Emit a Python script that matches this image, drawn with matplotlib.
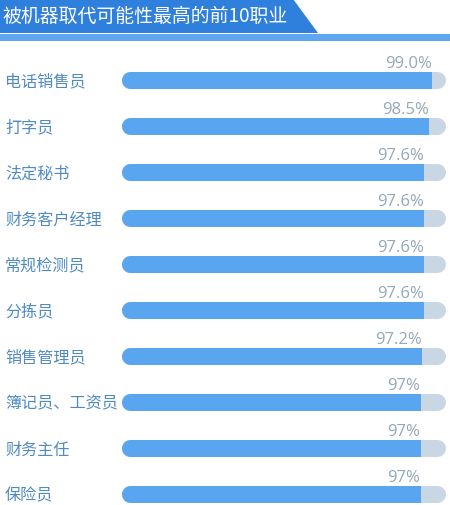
import numpy as np
import matplotlib.pyplot as plt
from matplotlib.patches import Polygon, Rectangle

plt.rcParams['font.family'] = ['Noto Sans CJK SC', 'DejaVu Sans']

# data
title = "被机器取代可能性最高的前10职业"
jobs = ["电话销售员", "打字员", "法定秘书", "财务客户经理", "常规检测员",
        "分拣员", "销售管理员", "簿记员、工资员", "财务主任", "保险员"]
values = [99.0, 98.5, 97.6, 97.6, 97.6, 97.6, 97.2, 97.0, 97.0, 97.0]
value_labels = ["99.0%", "98.5%", "97.6%", "97.6%", "97.6%",
                "97.6%", "97.2%", "97%", "97%", "97%"]

W, H = 450, 506
fig = plt.figure(figsize=(W / 100, H / 100), dpi=100)
fig.patch.set_facecolor('white')

# title banner
banner = Polygon([(0, 1), (293 / W, 1), (318 / W, 1 - 34 / H), (0, 1 - 34 / H)],
                 closed=True, transform=fig.transFigure, facecolor='#2f80dc',
                 edgecolor='none')
fig.patches.append(banner)
strip = Rectangle((0, 1 - 42 / H), 1, 7 / H, transform=fig.transFigure,
                  facecolor='#5ea6f0', edgecolor='none')
fig.patches.append(strip)
fig.text(2 / W, 1 - 16 / H, title, color='white', fontsize=13.6,
         ha='left', va='center')

# bars
ax = fig.add_axes([0, 0, 1, 1])
ax.set_axis_off()
px = 5.5  # pixels per percent
x0 = 100 - 437 / px
ax.set_xlim(x0, x0 + W / px)
ax.set_ylim((H - 81) / 46, -81 / 46)

track_start = x0 + 130 / px
track_end = 100
lw = 17 * 72 / 100
ypos = np.arange(len(jobs))

for i, (job, v, lab) in enumerate(zip(jobs, values, value_labels)):
    ax.plot([track_start, track_end], [i, i], color='#c9d6e3', lw=lw,
            solid_capstyle='round', zorder=1)
    fill, = ax.plot([track_start, track_end], [i, i], color='#5aa5f0', lw=lw,
                    solid_capstyle='round', zorder=2)
    clip = Rectangle((x0, i - 0.5), v - x0, 1, transform=ax.transData)
    fill.set_clip_path(clip)
    ax.text(v, i - 0.37, lab, color='#93a8ba', fontsize=12,
            family=['Open Sans', 'DejaVu Sans'], ha='right', va='center')
    ax.text(x0 + 5 / px, i + 0.02, job, color='#4f8ac4', fontsize=11.6,
            ha='left', va='center')

fig.savefig('out.png', dpi=100, facecolor='white')
